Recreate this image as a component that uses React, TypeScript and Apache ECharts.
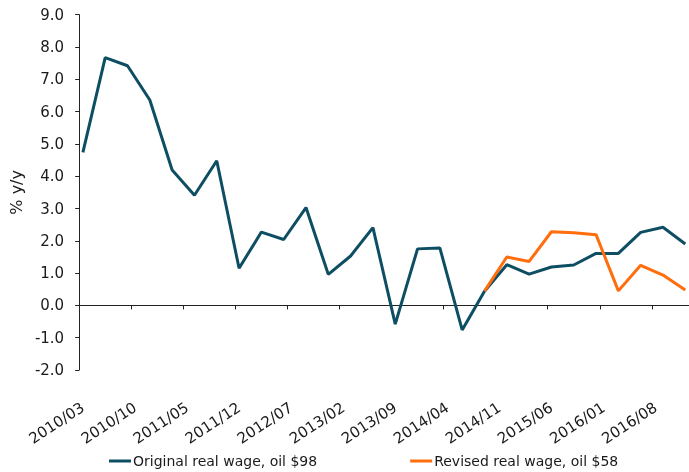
import React, { useEffect, useRef } from "react";
import * as echarts from "echarts";

// Quarterly observation dates
const quarterDates = [
  "2010/03", "2010/06", "2010/09", "2010/12",
  "2011/03", "2011/06", "2011/09", "2011/12",
  "2012/03", "2012/06", "2012/09", "2012/12",
  "2013/03", "2013/06", "2013/09", "2013/12",
  "2014/03", "2014/06", "2014/09", "2014/12",
  "2015/03", "2015/06", "2015/09", "2015/12",
  "2016/03", "2016/06", "2016/09", "2016/12",
];

const originalWage = [
  4.74, 7.67, 7.42, 6.36, 4.19, 3.41, 4.48, 1.15,
  2.27, 2.04, 3.03, 0.96, 1.53, 2.41, -0.58, 1.75,
  1.78, -0.76, 0.44, 1.26, 0.97, 1.19, 1.25, 1.61,
  1.61, 2.26, 2.42, 1.9,
];

const revisedWage = [
  null, null, null, null, null, null, null, null,
  null, null, null, null, null, null, null, null,
  null, null, 0.44, 1.5, 1.36, 2.28, 2.25, 2.19,
  0.45, 1.24, 0.94, 0.48,
];

const seriesNames = ["Original real wage, oil $98", "Revised real wage, oil $58"];
const yTicks = { min: -2, max: 9, interval: 1 };
const axisName = "% y/y";

// monthly category axis from first to last observation
function buildMonths(start: string, end: string): string[] {
  const [sy, sm] = start.split("/").map(Number);
  const [ey, em] = end.split("/").map(Number);
  const out: string[] = [];
  let y = sy, m = sm;
  while (y < ey || (y === ey && m <= em)) {
    out.push(`${y}/${String(m).padStart(2, "0")}`);
    m++;
    if (m > 12) { m = 1; y++; }
  }
  return out;
}

const months = buildMonths(quarterDates[0], quarterDates[quarterDates.length - 1]);

const FONT = "DejaVu Sans";
const TEXT = "#1a1a1a";
const BLUE = "#0d4e63";
const ORANGE = "#ff6d0d";

export default function App() {
  const ref = useRef<HTMLDivElement>(null);
  useEffect(() => {
    if (!ref.current) return;
    const chart = echarts.init(ref.current, undefined, { renderer: "svg" });
    const origData = quarterDates.map((d, i) => [d, originalWage[i]]);
    const revData = quarterDates
      .map((d, i) => [d, revisedWage[i]])
      .filter((p) => p[1] !== null);
    chart.setOption({
      animation: false,
      textStyle: { fontFamily: FONT },
      grid: { left: 79, top: 14.7, bottom: 102, right: -4, containLabel: false },
      legend: {
        left: 109,
        top: 454,
        padding: 0,
        itemGap: 93,
        itemWidth: 22,
        itemHeight: 3,
        icon: "rect",
        textStyle: { fontFamily: FONT, fontSize: 14, color: TEXT, padding: [0, 0, 0, -3] },
        data: seriesNames,
      },
      xAxis: [
        {
          type: "category",
          data: months,
          boundaryGap: true,
          position: "bottom",
          axisLine: { show: false, onZero: false },
          axisTick: { show: false },
          axisLabel: {
            interval: 6,
            rotate: 33,
            margin: 36,
            fontFamily: FONT,
            fontSize: 15,
            color: TEXT,
          },
        },
        {
          type: "category",
          data: months,
          boundaryGap: true,
          position: "bottom",
          axisLine: { show: true, onZero: true, lineStyle: { color: "#222", width: 1 } },
          axisTick: { show: true, interval: 6, length: 4, lineStyle: { color: "#222" } },
          axisLabel: { show: false },
        },
      ],
      yAxis: {
        type: "value",
        min: yTicks.min,
        max: yTicks.max,
        interval: yTicks.interval,
        name: axisName,
        nameLocation: "middle",
        nameGap: 55,
        nameTextStyle: { fontFamily: FONT, fontSize: 16, color: TEXT },
        axisLine: { show: true, lineStyle: { color: "#222", width: 1 } },
        axisTick: { show: true, length: 4, lineStyle: { color: "#222" } },
        splitLine: { show: false },
        axisLabel: {
          formatter: (v: number) => v.toFixed(1),
          margin: 15,
          fontFamily: FONT,
          fontSize: 15,
          color: TEXT,
        },
      },
      series: [
        {
          name: seriesNames[0],
          type: "line",
          xAxisIndex: 0,
          data: origData,
          showSymbol: false,
          symbol: "none",
          lineStyle: { color: BLUE, width: 3 },
          itemStyle: { color: BLUE },
        },
        {
          name: seriesNames[1],
          type: "line",
          xAxisIndex: 0,
          data: revData,
          showSymbol: false,
          symbol: "none",
          lineStyle: { color: ORANGE, width: 3 },
          itemStyle: { color: ORANGE },
        },
      ],
    });
    return () => chart.dispose();
  }, []);
  return (
    <div
      ref={ref}
      style={{ position: "fixed", left: 0, top: 0, width: 689, height: 472 }}
    />
  );
}
